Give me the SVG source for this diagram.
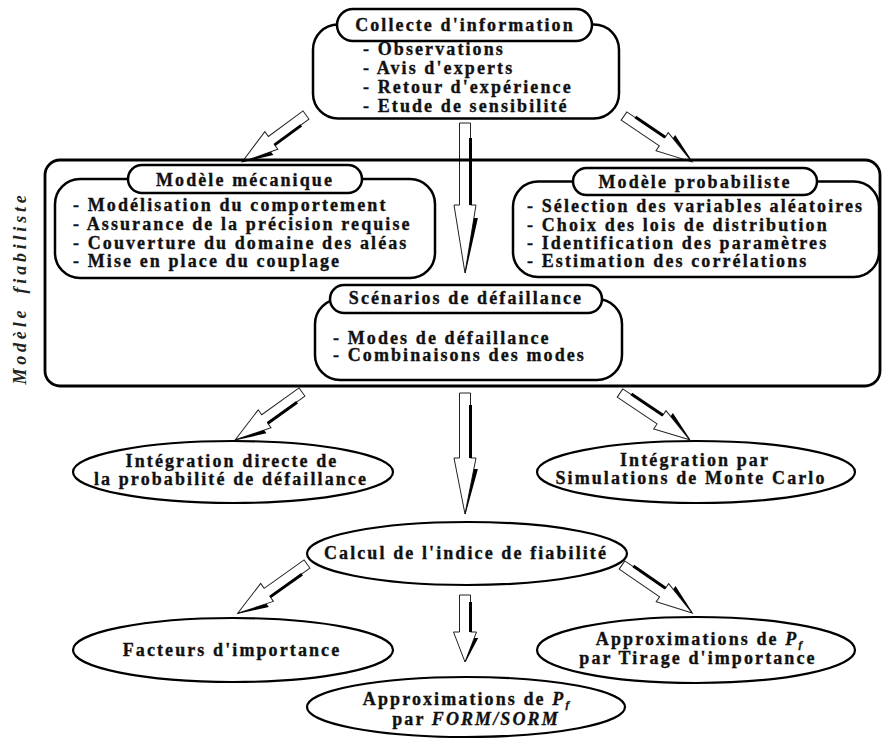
<svg xmlns="http://www.w3.org/2000/svg" width="883" height="738" viewBox="0 0 883 738" font-family="Liberation Serif, DejaVu Serif, serif">
<style>
  .box { fill: #fff; stroke: #000; stroke-width: 2.5; }
  .outer { fill: none; stroke: #000; stroke-width: 2.8; }
  .pill { fill: #fff; stroke: #000; stroke-width: 2.5; }
  .ell { fill: #fff; stroke: #000; stroke-width: 2.2; }
  .t { font-family: 'Liberation Serif', 'DejaVu Serif', serif; font-weight: bold; font-size: 18px; letter-spacing: 2.1px; fill: #111; stroke: #111; stroke-width: 0.35; }
  .c { text-anchor: middle; }
  .side { font-family: 'Liberation Serif', 'DejaVu Serif', serif; font-style: italic; font-weight: bold; font-size: 18px; letter-spacing: 3.8px; word-spacing: 5px; fill: #222; text-anchor: middle; }
  .ar { fill: #fff; stroke: #222; stroke-width: 1; stroke-linejoin: miter; }
  .sh { fill: #000; stroke: none; }
  .it { font-style: italic; }
</style>

<!-- connectors (block arrows with shadow) -->
<g id="connectors">
  <g transform="translate(306,115) rotate(53.7)">
    <path class="ar" d="M-5,0 H5 V43 H11 L0,79 L-11,43 H-5 Z"/>
    <path class="sh" d="M4,10 H7 V43 H4 Z M8.9,50 L12.9,50 L0.6,79 L0,79 Z"/>
  </g>
  <g transform="translate(465,123)">
    <path class="ar" d="M-5.5,0 H5.5 V82 H11 L0,150 L-11,82 H-5.5 Z"/>
    <path class="sh" d="M4,15 H7 V82 H4 Z M8.9,95 L12.9,95 L0.6,150 L0,150 Z"/>
  </g>
  <g transform="translate(624,116) rotate(-56)">
    <path class="ar" d="M-5,0 H5 V46 H11 L0,82 L-11,46 H-5 Z"/>
    <path class="sh" d="M4,10 H7 V46 H4 Z M8.9,53 L12.9,53 L0.6,82 L0,82 Z"/>
  </g>
  <g transform="translate(302,392) rotate(54.4)">
    <path class="ar" d="M-5,0 H5 V46 H11 L0,82 L-11,46 H-5 Z"/>
    <path class="sh" d="M4,10 H7 V46 H4 Z M8.9,53 L12.9,53 L0.6,82 L0,82 Z"/>
  </g>
  <g transform="translate(465,393)">
    <path class="ar" d="M-5.5,0 H5.5 V65 H11 L0,121 L-11,65 H-5.5 Z"/>
    <path class="sh" d="M4,12 H7 V65 H4 Z M8.9,76 L12.9,76 L0.6,121 L0,121 Z"/>
  </g>
  <g transform="translate(620,393) rotate(-56.1)">
    <path class="ar" d="M-5,0 H5 V48 H11 L0,84 L-11,48 H-5 Z"/>
    <path class="sh" d="M4,10 H7 V48 H4 Z M8.9,55 L12.9,55 L0.6,84 L0,84 Z"/>
  </g>
  <g transform="translate(307,564) rotate(54.6)">
    <path class="ar" d="M-5,0 H5 V49 H11 L0,85 L-11,49 H-5 Z"/>
    <path class="sh" d="M4,10 H7 V49 H4 Z M8.9,56 L12.9,56 L0.6,85 L0,85 Z"/>
  </g>
  <g transform="translate(465,595)">
    <path class="ar" d="M-5.5,0 H5.5 V37 H11.5 L0,67 L-11.5,37 H-5.5 Z"/>
    <path class="sh" d="M4,7 H7 V37 H4 Z M9.2,43 L13.2,43 L0.6,67 L0,67 Z"/>
  </g>
  <g transform="translate(622,565) rotate(-55.6)">
    <path class="ar" d="M-5,0 H5 V49 H11 L0,85 L-11,49 H-5 Z"/>
    <path class="sh" d="M4,10 H7 V49 H4 Z M8.9,56 L12.9,56 L0.6,85 L0,85 Z"/>
  </g>
</g>

<!-- Collecte d'information -->
<g id="collecte">
  <rect class="box" x="313" y="24.5" width="306" height="94" rx="25"/>
  <rect class="pill" x="337" y="9" width="255" height="32" rx="16"/>
  <text class="t c" x="465" y="31">Collecte d'information</text>
  <text class="t" x="363" y="55">- Observations</text>
  <text class="t" x="363" y="74">- Avis d'experts</text>
  <text class="t" x="363" y="93">- Retour d'expérience</text>
  <text class="t" x="363" y="111.5">- Etude de sensibilité</text>
</g>

<!-- Modèle fiabiliste (outer) -->
<g id="modele-fiabiliste">
  <rect class="outer" x="45" y="160" width="835" height="226" rx="15"/>
  <text class="side" transform="translate(26,288) rotate(-90)">Modèle fiabiliste</text>
</g>

<!-- Modèle mécanique -->
<g id="modele-mecanique">
  <rect class="box" x="55" y="179" width="380" height="99" rx="25"/>
  <rect class="pill" x="128" y="165" width="234" height="28" rx="14"/>
  <text class="t c" x="245" y="186">Modèle mécanique</text>
  <text class="t" x="73" y="211">- Modélisation du comportement</text>
  <text class="t" x="73" y="230">- Assurance de la précision requise</text>
  <text class="t" x="73" y="249">- Couverture du domaine des aléas</text>
  <text class="t" x="73" y="267">- Mise en place du couplage</text>
</g>

<!-- Modèle probabiliste -->
<g id="modele-probabiliste">
  <rect class="box" x="513" y="181.5" width="366" height="95.5" rx="25"/>
  <rect class="pill" x="573" y="168" width="244" height="27" rx="13.5"/>
  <text class="t c" x="695" y="187.5">Modèle probabiliste</text>
  <text class="t" x="527" y="212">- Sélection des variables aléatoires</text>
  <text class="t" x="527" y="230.5">- Choix des lois de distribution</text>
  <text class="t" x="527" y="249">- Identification des paramètres</text>
  <text class="t" x="527" y="267">- Estimation des corrélations</text>
</g>

<!-- Scénarios de défaillance -->
<g id="scenarios">
  <rect class="box" x="315" y="299" width="307" height="81" rx="25"/>
  <rect class="pill" x="330" y="285" width="272" height="28" rx="14"/>
  <text class="t c" x="466" y="304">Scénarios de défaillance</text>
  <text class="t" x="333" y="344">- Modes de défaillance</text>
  <text class="t" x="333" y="361">- Combinaisons des modes</text>
</g>

<!-- Intégration directe -->
<g id="integration-directe">
  <ellipse class="ell" cx="233" cy="472" rx="160" ry="31"/>
  <text class="t c" x="232" y="467">Intégration directe de</text>
  <text class="t c" x="231" y="485">la probabilité de défaillance</text>
</g>

<!-- Intégration par Monte Carlo -->
<g id="integration-monte-carlo">
  <ellipse class="ell" cx="696" cy="472" rx="159" ry="31"/>
  <text class="t c" x="695" y="466">Intégration par</text>
  <text class="t c" x="691" y="484">Simulations de Monte Carlo</text>
</g>

<!-- Calcul de l'indice de fiabilité -->
<g id="calcul-indice">
  <ellipse class="ell" cx="467" cy="553.5" rx="160" ry="31.5"/>
  <text class="t c" x="466" y="559">Calcul de l'indice de fiabilité</text>
</g>

<!-- Facteurs d'importance -->
<g id="facteurs-importance">
  <ellipse class="ell" cx="233" cy="650" rx="160" ry="32"/>
  <text class="t c" x="232" y="656">Facteurs d'importance</text>
</g>

<!-- Approximations par Tirage d'importance -->
<g id="approx-tirage">
  <ellipse class="ell" cx="696" cy="650" rx="159" ry="33"/>
  <text class="t c" x="700" y="645">Approximations de  <tspan class="it">P</tspan><tspan class="it" font-size="11" dy="3">f</tspan></text>
  <text class="t c" x="698" y="664">par Tirage d'importance</text>
</g>

<!-- Approximations par FORM/SORM -->
<g id="approx-form-sorm">
  <ellipse class="ell" cx="466" cy="707" rx="159" ry="30"/>
  <text class="t c" x="467" y="705">Approximations de  <tspan class="it">P</tspan><tspan class="it" font-size="11" dy="3">f</tspan></text>
  <text class="t c" x="476" y="725">par <tspan class="it">FORM/SORM</tspan></text>
</g>
</svg>
